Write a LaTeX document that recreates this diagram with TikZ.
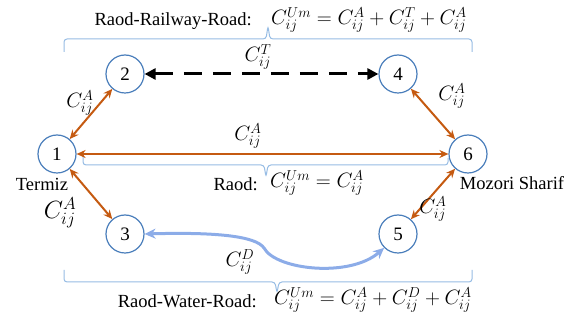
\documentclass[tikz,border=0pt]{standalone}
\usepackage{fontspec}
\setmainfont{Liberation Serif}
\usetikzlibrary{arrows.meta}
\definecolor{circblue}{RGB}{74,126,187}
\definecolor{braceblue}{RGB}{150,188,228}
\definecolor{curveblue}{RGB}{140,172,232}
\definecolor{orangeA}{RGB}{197,90,17}
\tikzset{
  city/.style={circle,draw=circblue,line width=1.2pt,minimum size=38pt,inner sep=0pt,font=\fontsize{19}{22}\selectfont},
  txt/.style={inner sep=0pt,font=\fontsize{18.5}{22}\selectfont},
  lbl/.style={inner sep=0pt,font=\fontsize{21}{24}\selectfont},
  road/.style={draw=orangeA,line width=2pt,{Stealth[length=9pt,width=8pt]}-{Stealth[length=9pt,width=8pt]}},
  rail/.style={draw=black,line width=3pt,dash pattern=on 18pt off 11pt,{Triangle[length=11pt,width=11pt]}-{Triangle[length=11pt,width=11pt]}},
  water/.style={draw=curveblue,line width=3pt,{Stealth[length=11pt,width=10pt]}-{Stealth[length=11pt,width=10pt]}},
  brace/.style={draw=braceblue,line width=1pt,rounded corners=3pt}
}
\begin{document}
\begin{tikzpicture}[x=1pt,y=-1pt]
\useasboundingbox (0,0) rectangle (571,320);
% nodes
\node[city] (n1) at (57,154) {1};
\node[city] (n2) at (125,74) {2};
\node[city] (n3) at (125,234) {3};
\node[city] (n4) at (398,74) {4};
\node[city] (n5) at (398,234) {5};
\node[city] (n6) at (468,154) {6};
\node[txt] (t1) at (42,184) {Termiz};
\node[txt] (t6) at (512,183) {Mozori Sharif};
% braces
\draw[brace] (64,52) -- (64,39) -- (266,39) -- (268,26) -- (270,39) -- (472,39) -- (472,52);
\draw[brace] (83,154) -- (83,165) -- (264,165) -- (266,177) -- (268,165) -- (448,165) -- (448,158);
\draw[brace] (64,270) -- (64,282) -- (275,282) -- (277,293) -- (279,282) -- (472,282) -- (472,270);
% brace labels
\node[txt,anchor=east] (rrr) at (252,21) {Raod-Railway-Road:};
\node[lbl,anchor=west] (frr) at (271,20) {$C_{ij}^{Um}=C_{ij}^{A}+C_{ij}^{T}+C_{ij}^{A}$};
\node[txt,anchor=east] (rr) at (258,184) {Raod:};
\node[lbl,anchor=west] (fr) at (270,183) {$C_{ij}^{Um}=C_{ij}^{A}$};
\node[txt,anchor=east] (rwr) at (257,301) {Raod-Water-Road:};
\node[lbl,anchor=west] (fwr) at (274,300) {$C_{ij}^{Um}=C_{ij}^{A}+C_{ij}^{D}+C_{ij}^{A}$};
% connectors
\draw[rail] (n2) -- (n4);
\draw[road] (n1) -- (n6);
\draw[road] (n1) -- (n2);
\draw[road] (n1) -- (n3);
\draw[road] (n4) -- (n6);
\draw[road] (n6) -- (n5);
\draw[water] (n3.east) .. controls (215,232) and (256,236) .. (264,248) .. controls (276,270) and (350,278) .. (n5.south west);
% edge labels
\node[lbl] (lT) at (258,57) {$C_{ij}^{T}$};
\node[lbl] (l12) at (80,103) {$C_{ij}^{A}$};
\node[lbl] (l16) at (248,136) {$C_{ij}^{A}$};
\node[inner sep=0pt,font=\fontsize{27}{30}\selectfont] (l13) at (60,213) {$C_{ij}^{A}$};
\node[lbl] (l46) at (452,96) {$C_{ij}^{A}$};
\node[lbl] (l65) at (433,209) {$C_{ij}^{A}$};
\node[lbl] (lD) at (240,262) {$C_{ij}^{D}$};
\end{tikzpicture}
\end{document}
